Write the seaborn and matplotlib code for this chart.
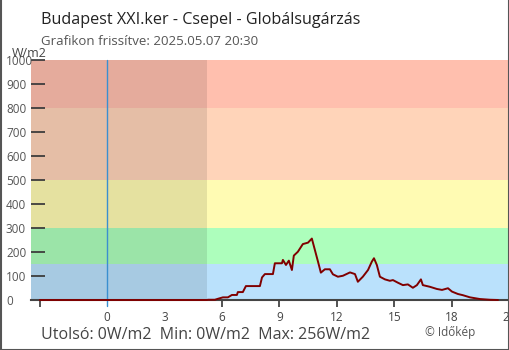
import matplotlib
matplotlib.use("Agg")
import matplotlib.pyplot as plt
import seaborn as sns
import pandas as pd
from matplotlib.lines import Line2D

# ---- data ----
hours = [-3.5, 5.22, 5.27, 5.63, 5.79, 6.05, 6.31, 6.52, 6.78, 6.83, 7.09, 7.25, 7.98,
         8.09, 8.24, 8.66, 8.76, 9.13, 9.18, 9.34, 9.49, 9.65, 9.75, 9.96, 10.22, 10.49,
         10.69, 10.85, 11.01, 11.16, 11.37, 11.63, 11.79, 12.05, 12.31, 12.68, 12.94,
         13.09, 13.35, 13.62, 13.82, 13.93, 14.08, 14.24, 14.5, 14.76, 14.92, 15.18,
         15.44, 15.7, 15.96, 16.17, 16.38, 16.48, 16.85, 17.21, 17.48, 17.79, 18.0,
         18.31, 18.57, 18.94, 19.46, 19.98, 20.4]
values = [0, 0, 1, 1, 5, 11, 11, 21, 21, 33, 33, 58, 58,
          94, 108, 108, 153, 153, 167, 146, 164, 125, 185, 201, 233, 239,
          256, 208, 160, 114, 128, 128, 107, 97, 101, 115, 108,
          76, 97, 125, 160, 174, 146, 97, 86, 80, 83, 72,
          62, 65, 51, 62, 86, 62, 55, 46, 42, 49, 35,
          25, 20, 11, 4, 1, 0]
band_edges = [0, 150, 300, 500, 800, 1000]
band_colors = ["#bae1fc", "#adfebc", "#fffbb3", "#ffd4b9", "#ffbfae"]
night_end = 5.2
x_ticks = [0, 3, 6, 9, 12, 15, 18, 21]
y_ticks = [0, 100, 200, 300, 400, 500, 600, 700, 800, 900, 1000]

sns.set_theme(style="white")
plt.rcParams["font.family"] = ["Open Sans", "DejaVu Sans"]

fig = plt.figure(figsize=(5.1, 3.5), dpi=100)
ax = fig.add_axes([31 / 510, 50 / 350, (509.5 - 31) / 510, 240 / 350])

for lo, hi, c in zip(band_edges[:-1], band_edges[1:], band_colors):
    ax.axhspan(lo, hi, color=c, lw=0, zorder=0)
ax.axvspan(-4, night_end, color="black", alpha=0.1, lw=0, zorder=1)

df = pd.DataFrame({"h": hours, "v": values})
sns.lineplot(data=df, x="h", y="v", ax=ax, color="#800000", linewidth=1.4,
             zorder=4, clip_on=False)

ax.axvline(0, ymin=-0.025, ymax=1, color="#3a8fd0", lw=1, zorder=3, clip_on=False)

ax.set_xlim(-3.96, 20.99)
ax.set_ylim(0, 1000)
ax.set_xlabel("")
ax.set_ylabel("")

for s in ["top", "left", "right"]:
    ax.spines[s].set_visible(False)
ax.spines["bottom"].set_color("#444444")
ax.spines["bottom"].set_linewidth(1.5)
ax.spines["bottom"].set_zorder(2)

ax.set_xticks(x_ticks)
ax.set_xticklabels([str(t) for t in x_ticks])
ax.set_xticks([-3.5], minor=True)
ax.tick_params(axis="x", which="both", direction="out", length=5, width=1.3,
               color="#444444", labelsize=8.5, labelcolor="#444444", pad=3, bottom=True)
for t in ax.xaxis.get_major_ticks()[:2]:
    t.tick1line.set_visible(False)

ax.set_yticks(y_ticks)
ax.set_yticklabels([str(t) for t in y_ticks])
ax.tick_params(axis="y", direction="in", length=10, width=1.3, color="#444444",
               labelsize=8.5, labelcolor="#555555", pad=18, left=True)
for lab in ax.get_yticklabels():
    lab.set_horizontalalignment("left")
ax.grid(False)

fig.text(41 / 510, 1 - 24 / 350, "Budapest XXI.ker - Csepel - Globálsugárzás",
         fontsize=11.6, color="#222222", va="baseline")
fig.text(41 / 510, 1 - 45 / 350, "Grafikon frissítve: 2025.05.07 20:30",
         fontsize=9.5, color="#555555", va="baseline")
fig.text(12 / 510, 1 - 57 / 350, "W/m2", fontsize=9, color="#444444", va="baseline")
fig.text(41 / 510, 1 - 339 / 350, "Utolsó: 0W/m2  Min: 0W/m2  Max: 256W/m2",
         fontsize=11.5, color="#444444", va="baseline")
fig.text(425 / 510, 1 - 336 / 350, "© Időkép", fontsize=8.5, color="#555555", va="baseline")

fc = "#555555"
fig.add_artist(Line2D([0.5 / 510, 0.5 / 510], [0, 1], color=fc, lw=1.5, transform=fig.transFigure))
fig.add_artist(Line2D([509.5 / 510, 509.5 / 510], [0, 1], color=fc, lw=1.5, transform=fig.transFigure))
fig.add_artist(Line2D([0, 1], [0.5 / 350, 0.5 / 350], color=fc, lw=1.5, transform=fig.transFigure))

fig.savefig("out.png", dpi=100)
